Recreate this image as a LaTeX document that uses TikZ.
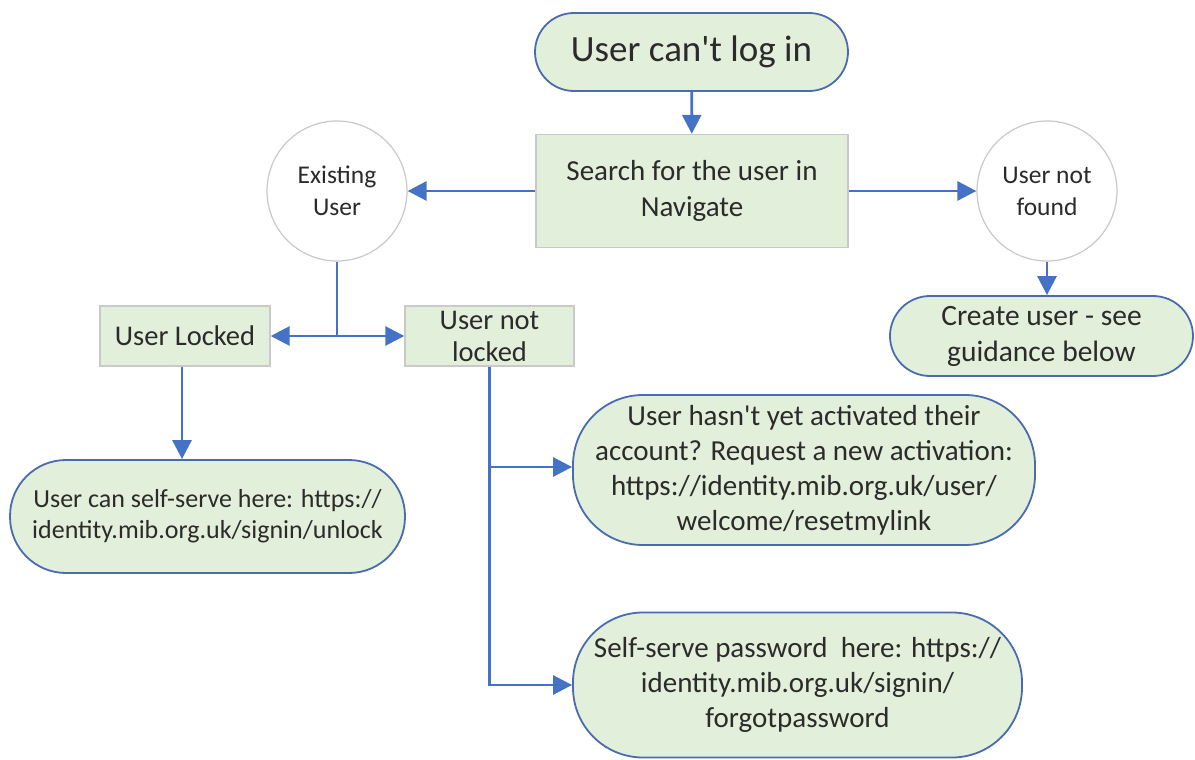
\documentclass[tikz,border=0pt]{standalone}
\usepackage{fontspec}
\setmainfont{Carlito}
\usetikzlibrary{arrows.meta}

\definecolor{paleGreen}{HTML}{E2EFDA}
\definecolor{edgeBlue}{HTML}{4472C4}
\definecolor{rimBlue}{HTML}{4A6CAE}
\definecolor{rimGrey}{HTML}{C9C9C9}
\definecolor{inkGrey}{HTML}{2B2B2B}

\tikzset{
  terminal/.style={draw=rimBlue, line width=1.8pt, fill=paleGreen, rounded corners=#1,
    align=center, text=inkGrey, inner sep=0pt},
  process/.style={draw=rimGrey, line width=1.4pt, fill=paleGreen,
    align=center, text=inkGrey, inner sep=0pt},
  junction/.style={circle, draw=rimGrey, line width=1.2pt, fill=white, minimum size=140pt,
    align=center, text=inkGrey, inner sep=0pt, font=\fontsize{25.5}{32}\selectfont},
  flow/.style={draw=edgeBlue, line width=2.8pt, -{Triangle[length=19pt,width=19pt]}}
}

\begin{document}
\begin{tikzpicture}[x=1pt, y=-1pt]
  \useasboundingbox (0,0) rectangle (1195,760);

  \node[terminal=39pt, minimum width=313pt, minimum height=78pt,
        font=\fontsize{37}{44}\selectfont] (start) at (691.5,52)
        {User can\textquotesingle t log in};
  \node[process, minimum width=312pt, minimum height=113pt,
        font=\fontsize{29}{36}\selectfont] (search) at (692,191)
        {Search for the user in\\Navigate};
  \node[junction] (existing) at (337,191) {Existing\\User};
  \node[junction] (notfound) at (1047,191) {User not\\found};
  \node[terminal=40pt, minimum width=303pt, minimum height=80pt,
        font=\fontsize{29.5}{36}\selectfont] (create) at (1041.5,336)
        {Create user - see\\guidance below};

  \node[process, minimum width=170pt, minimum height=60pt,
        font=\fontsize{28.5}{32}\selectfont] (locked) at (185,336) {User Locked};
  \node[process, minimum width=169pt, minimum height=60pt,
        font=\fontsize{28.5}{32}\selectfont] (notlocked) at (489.5,336) {User not\\locked};
  \coordinate (split) at (337,336);

  \node[terminal=56pt, minimum width=395pt, minimum height=113pt,
        font=\fontsize{26}{31}\selectfont] (unlock) at (207.5,516.5)
        {User can self-serve here: https://\\identity.mib.org.uk/signin/unlock};
  \node[terminal=70pt, minimum width=462pt, minimum height=150pt,
        font=\fontsize{29}{35}\selectfont] (activate) at (804,470)
        {User hasn\textquotesingle t yet activated their\\account? Request a new activation:\\https://identity.mib.org.uk/user/\\welcome/resetmylink};
  \node[terminal=70pt, minimum width=449pt, minimum height=145pt,
        font=\fontsize{29}{35}\selectfont] (password) at (797.5,685)
        {Self-serve password\ \ here: https://\\identity.mib.org.uk/signin/\\forgotpassword};

  \draw[flow] (start) -- (search);
  \draw[flow] (search) -- (existing);
  \draw[flow] (search) -- (notfound);
  \draw[flow] (notfound.south) -- (notfound.south |- create.north);
  \draw[draw=edgeBlue, line width=2.8pt] (existing.south) -- (split);
  \draw[flow] (split) -- (locked.east);
  \draw[flow] (split) -- (notlocked.west);
  \draw[flow] (locked.south -| 182,0) -- (182,0 |- unlock.north);
  \draw[flow] (notlocked.south) |- (password.west);
  \draw[flow] (notlocked.south |- 0,467) -- (activate.west |- 0,467);
\end{tikzpicture}
\end{document}
